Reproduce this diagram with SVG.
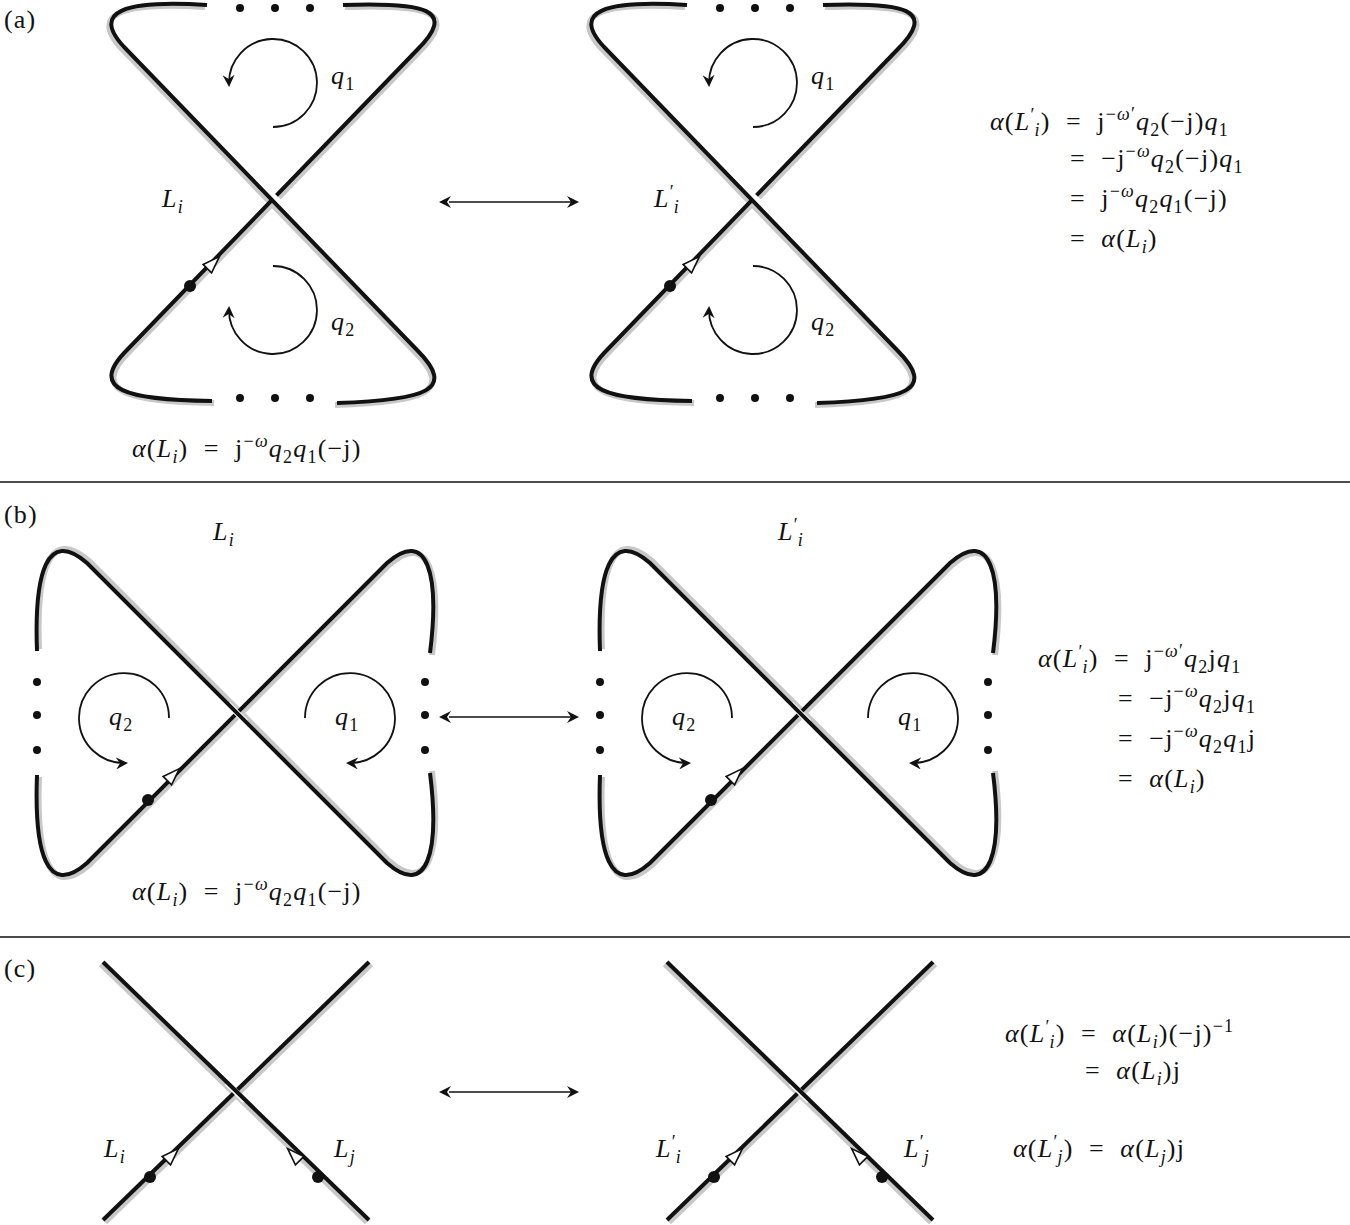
<svg xmlns="http://www.w3.org/2000/svg" width="1350" height="1225" viewBox="0 0 1350 1225">
<style>
.sh{fill:none;stroke:#c8c8c8;stroke-width:6;stroke-linecap:butt}
.st{fill:none;stroke:#111;stroke-width:4;stroke-linecap:butt}
.wh{fill:none;stroke:#fff;stroke-width:6}
.arc{fill:none;stroke:#111;stroke-width:1.8}
.sep{stroke:#111;stroke-width:1.5}
.dbl{stroke:#111;stroke-width:1.6}
text{font-family:"Liberation Serif",serif;font-size:26px;fill:#111;white-space:pre;letter-spacing:1.2px}
.v{font-style:italic}
.s{font-size:18px}
</style>
<defs>
<marker id="ah" markerWidth="14" markerHeight="12" refX="10" refY="6" orient="auto" markerUnits="userSpaceOnUse"><path d="M0,0 L12,6 L0,12 L4,6 Z" fill="#111"/></marker>
<marker id="ahs" markerWidth="14" markerHeight="12" refX="2" refY="6" orient="auto-start-reverse" markerUnits="userSpaceOnUse"><path d="M0,0 L12,6 L0,12 L4,6 Z" fill="#111"/></marker>
<g id="tri"><polygon points="-8,-6 9,0 -8,6" fill="#fff" stroke="#111" stroke-width="1.6"/></g>
<g id="knotA">
<path class="sh" transform="translate(2,2)" d="M -65,201 C -150,200 -190,190 -150,150 L 140,-150 C 180,-190 150,-198 66,-195"/>
<path class="sh" transform="translate(-2,2)" d="M -70,-195 C -150,-200 -190,-190 -150,-150 L 140,150 C 180,190 150,200 60,203"/>
<path class="st" d="M -65,201 C -150,200 -190,190 -150,150 L 140,-150 C 180,-190 150,-198 66,-195"/>
<path class="wh" d="M -9,-9 L 9,9"/>
<path class="st" d="M -70,-195 C -150,-200 -190,-190 -150,-150 L 140,150 C 180,190 150,200 60,203"/>
<circle cx="-37" cy="-192" r="4" fill="#111"/><circle cx="-2" cy="-192" r="4" fill="#111"/><circle cx="33" cy="-192" r="4" fill="#111"/>
<circle cx="-37" cy="198" r="4" fill="#111"/><circle cx="-2" cy="198" r="4" fill="#111"/><circle cx="33" cy="198" r="4" fill="#111"/>
<path class="arc" marker-end="url(#ah)" d="M -4,-73 A 44,44 0 1 0 -48,-115"/>
<path class="arc" marker-end="url(#ah)" d="M -4,66 A 44,44 0 1 1 -48,108"/>
<circle cx="-87" cy="86" r="6" fill="#111"/>
<use href="#tri" transform="translate(-64,63) rotate(-45)"/>
<text class="v" x="54" y="-116">q<tspan class="s" dy="6" font-style="normal">1</tspan></text>
<text class="v" x="54" y="130">q<tspan class="s" dy="6" font-style="normal">2</tspan></text>
</g>
<g id="knotB">
<path class="sh" transform="translate(2,2)" d="M -200,62 C -203,140 -190,185 -150,150 L 150,-150 C 190,-185 203,-140 193,-60"/>
<path class="sh" transform="translate(2,-2)" d="M -200,-62 C -203,-140 -190,-185 -150,-150 L 150,150 C 190,185 203,140 193,60"/>
<path class="st" d="M -200,62 C -203,140 -190,185 -150,150 L 150,-150 C 190,-185 203,-140 193,-60"/>
<path class="wh" d="M -9,-9 L 9,9"/>
<path class="st" d="M -200,-62 C -203,-140 -190,-185 -150,-150 L 150,150 C 190,185 203,140 193,60"/>
<circle cx="-200" cy="-31" r="4" fill="#111"/><circle cx="-200" cy="2" r="4" fill="#111"/><circle cx="-200" cy="37" r="4" fill="#111"/>
<circle cx="188" cy="-31" r="4" fill="#111"/><circle cx="188" cy="2" r="4" fill="#111"/><circle cx="188" cy="37" r="4" fill="#111"/>
<path class="arc" marker-end="url(#ah)" d="M -68,5 A 45,45 0 1 0 -111,50"/>
<path class="arc" marker-end="url(#ah)" d="M 68,5 A 45,45 0 1 1 111,50"/>
<circle cx="-89" cy="87" r="6" fill="#111"/>
<use href="#tri" transform="translate(-64,62) rotate(-45)"/>
<text class="v" x="-128" y="12">q<tspan class="s" dy="6" font-style="normal">2</tspan></text>
<text class="v" x="98" y="12">q<tspan class="s" dy="6" font-style="normal">1</tspan></text>
</g>
<g id="knotC">
<path class="sh" transform="translate(-2,2)" d="M -133,-130 L 133,128"/>
<path class="sh" transform="translate(2,2)" d="M -133,128 L 133,-130"/>
<path class="st" d="M -133,128 L 133,-130"/>
<path class="wh" d="M -9,-9 L 9,9"/>
<path class="st" d="M -133,-130 L 133,128"/>
<circle cx="-86" cy="85" r="6" fill="#111"/>
<circle cx="82" cy="85" r="6" fill="#111"/>
<use href="#tri" transform="translate(-64,63) rotate(-45)"/>
<use href="#tri" transform="translate(58,63) rotate(-135)"/>
</g>
</defs>

<g id="sep">
<line class="sep" x1="0" y1="482" x2="1350" y2="482"/>
<line class="sep" x1="0" y1="937" x2="1350" y2="937"/>
</g>
<text x="4" y="28">(a)</text>
<text x="4" y="523">(b)</text>
<text x="4" y="977">(c)</text>

<g id="a-left" transform="translate(277,200)"><use href="#knotA"/></g>
<g id="a-right" transform="translate(757,200)"><use href="#knotA"/></g>
<g id="b-left" transform="translate(237,713)"><use href="#knotB"/></g>
<g id="b-right" transform="translate(800,713)"><use href="#knotB"/></g>
<g id="c-left" transform="translate(236,1092)"><use href="#knotC"/></g>
<g id="c-right" transform="translate(800,1092)"><use href="#knotC"/></g>

<g id="connectors">
<line class="dbl" x1="449" y1="202" x2="577" y2="202" marker-start="url(#ahs)" marker-end="url(#ah)"/>
<line class="dbl" x1="449" y1="717" x2="577" y2="717" marker-start="url(#ahs)" marker-end="url(#ah)"/>
<line class="dbl" x1="449" y1="1092" x2="577" y2="1092" marker-start="url(#ahs)" marker-end="url(#ah)"/>
</g>

<g id="labels">
<text class="v" x="162" y="207">L<tspan class="s" dy="6">i</tspan></text>
<text class="v" x="654" y="207">L<tspan dy="-9" font-style="normal" class="s">′</tspan><tspan class="s" dx="-1" dy="15">i</tspan></text>
<text class="v" x="213" y="540">L<tspan class="s" dy="6">i</tspan></text>
<text class="v" x="778" y="540">L<tspan dy="-9" font-style="normal" class="s">′</tspan><tspan class="s" dx="-1" dy="15">i</tspan></text>
<text class="v" x="104" y="1157">L<tspan class="s" dy="6">i</tspan></text>
<text class="v" x="334" y="1157">L<tspan class="s" dy="6">j</tspan></text>
<text class="v" x="656" y="1157">L<tspan dy="-9" font-style="normal" class="s">′</tspan><tspan class="s" dx="-1" dy="15">i</tspan></text>
<text class="v" x="904" y="1157">L<tspan dy="-9" font-style="normal" class="s">′</tspan><tspan class="s" dx="-1" dy="15">j</tspan></text>
</g>

<g id="eq-a">
<text x="990" y="130"><tspan class="v">α</tspan>(<tspan class="v">L</tspan><tspan class="s" dy="-9">′</tspan><tspan class="s v" dx="-1" dy="15">i</tspan><tspan dy="-6">)  =  j</tspan><tspan class="s" dy="-10">−<tspan class="v">ω</tspan>′</tspan><tspan class="v" dy="10">q</tspan><tspan class="s" dy="6">2</tspan><tspan dy="-6">(−j)</tspan><tspan class="v">q</tspan><tspan class="s" dy="6">1</tspan></text>
<text x="1070" y="167">=  −j<tspan class="s" dy="-10">−<tspan class="v">ω</tspan></tspan><tspan class="v" dy="10">q</tspan><tspan class="s" dy="6">2</tspan><tspan dy="-6">(−j)</tspan><tspan class="v">q</tspan><tspan class="s" dy="6">1</tspan></text>
<text x="1070" y="207">=  j<tspan class="s" dy="-10">−<tspan class="v">ω</tspan></tspan><tspan class="v" dy="10">q</tspan><tspan class="s" dy="6">2</tspan><tspan class="v" dy="-6">q</tspan><tspan class="s" dy="6">1</tspan><tspan dy="-6">(−j)</tspan></text>
<text x="1070" y="247">=  <tspan class="v">α</tspan>(<tspan class="v">L</tspan><tspan class="s v" dy="6">i</tspan><tspan dy="-6">)</tspan></text>
<text x="132" y="457"><tspan class="v">α</tspan>(<tspan class="v">L</tspan><tspan class="s v" dy="6">i</tspan><tspan dy="-6">)  =  j</tspan><tspan class="s" dy="-10">−<tspan class="v">ω</tspan></tspan><tspan class="v" dy="10">q</tspan><tspan class="s" dy="6">2</tspan><tspan class="v" dy="-6">q</tspan><tspan class="s" dy="6">1</tspan><tspan dy="-6">(−j)</tspan></text>
</g>
<g id="eq-b">
<text x="1038" y="667"><tspan class="v">α</tspan>(<tspan class="v">L</tspan><tspan class="s" dy="-9">′</tspan><tspan class="s v" dx="-1" dy="15">i</tspan><tspan dy="-6">)  =  j</tspan><tspan class="s" dy="-10">−<tspan class="v">ω</tspan>′</tspan><tspan class="v" dy="10">q</tspan><tspan class="s" dy="6">2</tspan><tspan dy="-6">j</tspan><tspan class="v">q</tspan><tspan class="s" dy="6">1</tspan></text>
<text x="1118" y="707">=  −j<tspan class="s" dy="-10">−<tspan class="v">ω</tspan></tspan><tspan class="v" dy="10">q</tspan><tspan class="s" dy="6">2</tspan><tspan dy="-6">j</tspan><tspan class="v">q</tspan><tspan class="s" dy="6">1</tspan></text>
<text x="1118" y="747">=  −j<tspan class="s" dy="-10">−<tspan class="v">ω</tspan></tspan><tspan class="v" dy="10">q</tspan><tspan class="s" dy="6">2</tspan><tspan class="v" dy="-6">q</tspan><tspan class="s" dy="6">1</tspan><tspan dy="-6">j</tspan></text>
<text x="1118" y="787">=  <tspan class="v">α</tspan>(<tspan class="v">L</tspan><tspan class="s v" dy="6">i</tspan><tspan dy="-6">)</tspan></text>
<text x="132" y="900"><tspan class="v">α</tspan>(<tspan class="v">L</tspan><tspan class="s v" dy="6">i</tspan><tspan dy="-6">)  =  j</tspan><tspan class="s" dy="-10">−<tspan class="v">ω</tspan></tspan><tspan class="v" dy="10">q</tspan><tspan class="s" dy="6">2</tspan><tspan class="v" dy="-6">q</tspan><tspan class="s" dy="6">1</tspan><tspan dy="-6">(−j)</tspan></text>
</g>
<g id="eq-c">
<text x="1005" y="1042"><tspan class="v">α</tspan>(<tspan class="v">L</tspan><tspan class="s" dy="-9">′</tspan><tspan class="s v" dx="-1" dy="15">i</tspan><tspan dy="-6">)  =  </tspan><tspan class="v">α</tspan>(<tspan class="v">L</tspan><tspan class="s v" dy="6">i</tspan><tspan dy="-6">)(−j)</tspan><tspan class="s" dy="-10">−1</tspan></text>
<text x="1085" y="1079">=  <tspan class="v">α</tspan>(<tspan class="v">L</tspan><tspan class="s v" dy="6">i</tspan><tspan dy="-6">)j</tspan></text>
<text x="1013" y="1157"><tspan class="v">α</tspan>(<tspan class="v">L</tspan><tspan class="s" dy="-9">′</tspan><tspan class="s v" dx="-1" dy="15">j</tspan><tspan dy="-6">)  =  </tspan><tspan class="v">α</tspan>(<tspan class="v">L</tspan><tspan class="s v" dy="6">j</tspan><tspan dy="-6">)j</tspan></text>
</g>
</svg>
